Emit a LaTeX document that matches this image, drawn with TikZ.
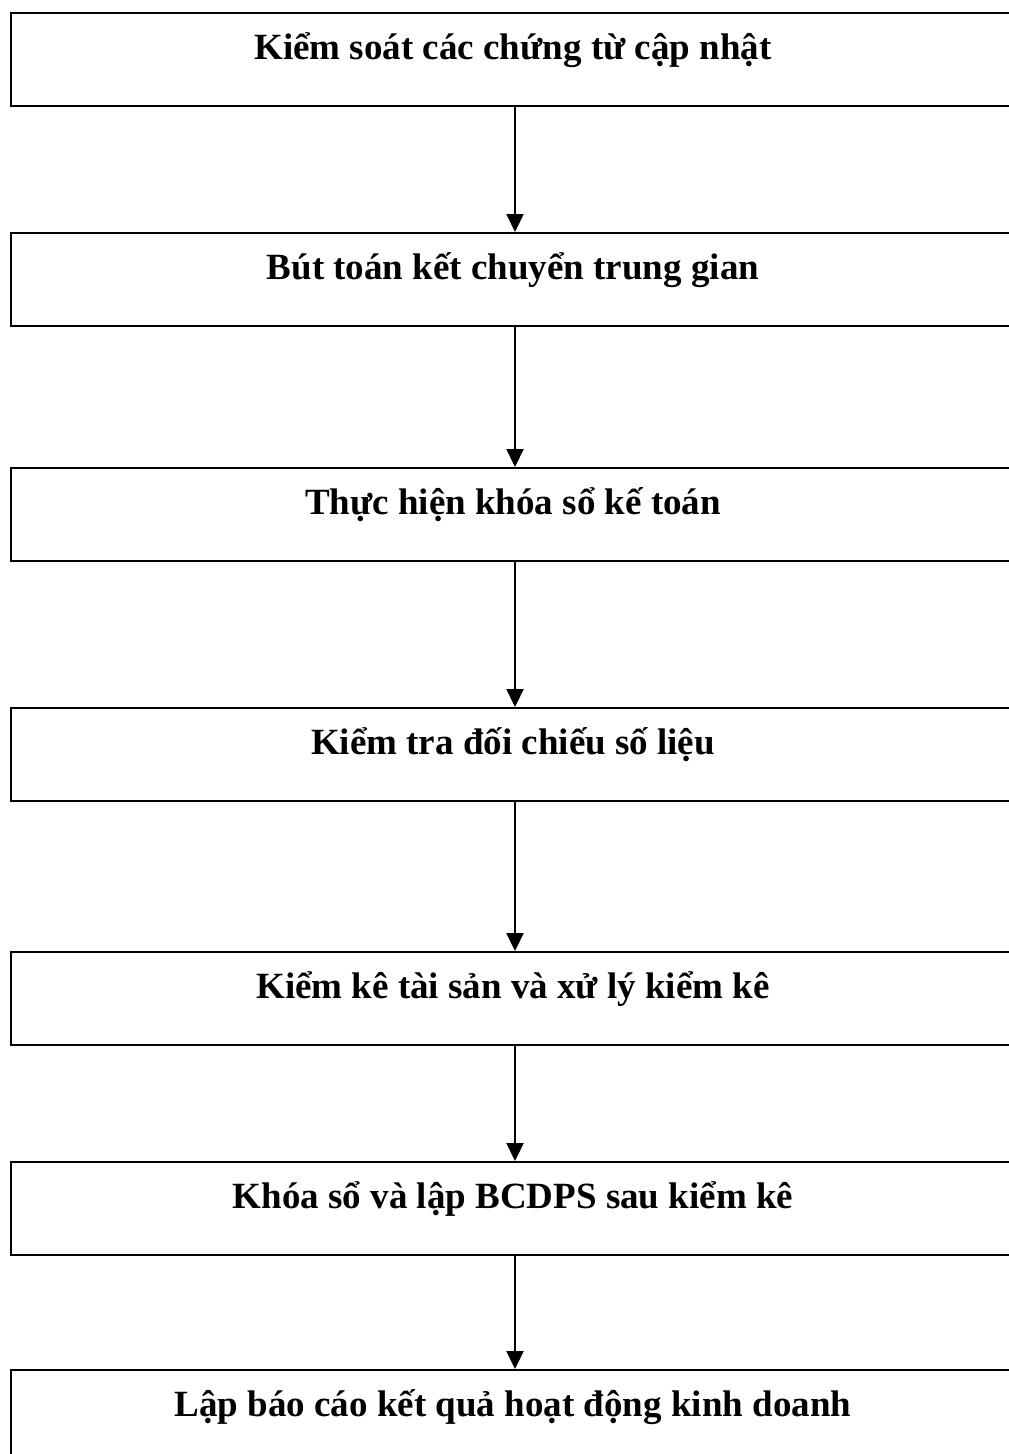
\documentclass[tikz,border=0pt]{standalone}
\usepackage{fontspec}
\setmainfont{Liberation Serif}
\usetikzlibrary{arrows.meta}

\tikzset{
  stage/.style={draw, line width=2.2pt, inner sep=0pt, anchor=north,
    minimum width=1004pt, text height=46pt, text depth=47pt,
    font=\fontsize{37}{42}\selectfont\bfseries},
  flow/.style={line width=2.2pt, -{Triangle[length=18pt,width=17pt]}}
}

\begin{document}
\begin{tikzpicture}[x=1pt, y=-1pt]
    \useasboundingbox (0,0) rectangle (1009,1454);
    \clip (0,0) rectangle (1009,1454);

    \node[stage] (S1) at (513,12)   {Kiểm soát các chứng từ cập nhật};
    \node[stage] (S2) at (513,232)  {Bút toán kết chuyển trung gian};
    \node[stage] (S3) at (513,467)  {Thực hiện khóa sổ kế toán};
    \node[stage] (S4) at (513,707)  {Kiểm tra đối chiếu số liệu};
    \node[stage] (S5) at (513,951)  {Kiểm kê tài sản và xử lý kiểm kê};
    \node[stage] (S6) at (513,1161) {Khóa sổ và lập BCDPS sau kiểm kê};
    \node[stage] (S7) at (513,1369) {Lập báo cáo kết quả hoạt động kinh doanh};

    \foreach \a/\b in {S1/S2, S2/S3, S3/S4, S4/S5, S5/S6, S6/S7}
      \draw[flow] ([xshift=2pt]\a.south) -- ([xshift=2pt]\b.north);
\end{tikzpicture}
\end{document}
